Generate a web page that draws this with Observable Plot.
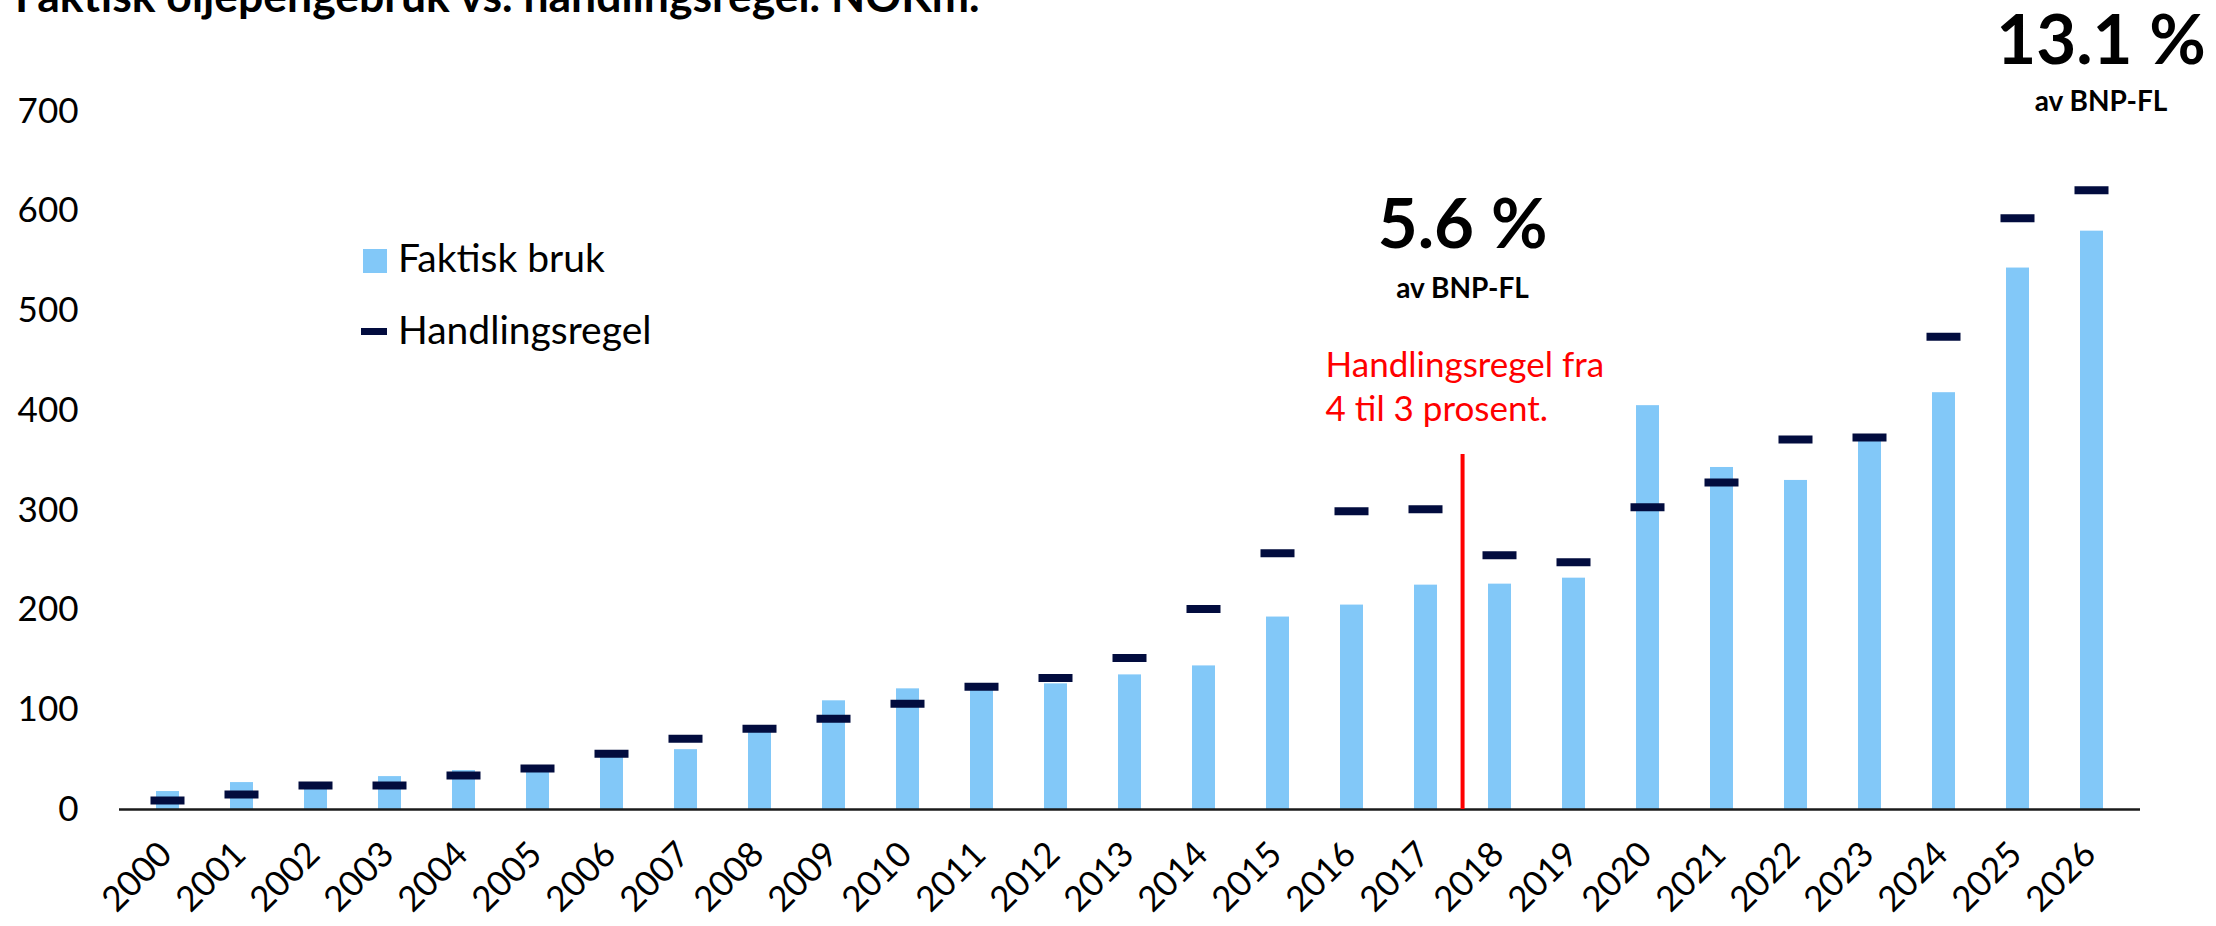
<!DOCTYPE html>
<html>
<head>
<meta charset="utf-8">
<script src="https://cdn.jsdelivr.net/npm/d3@7"></script>
<script src="https://cdn.jsdelivr.net/npm/@observablehq/plot@0.6"></script>
<style>
  html, body { margin: 0; padding: 0; background: #fff; overflow: hidden; }
  #wrap { position: relative; width: 2216px; height: 926px; font-family: Lato, sans-serif; overflow: hidden; }
  #title { position: absolute; left: 15px; top: -27px; font-size: 44.5px; line-height: 44px; font-weight: 700; color: #000; white-space: nowrap; }
  .leg { position: absolute; font-size: 39px; line-height: 39px; color: #000; white-space: nowrap; }
  .sw { position: absolute; }
</style>
</head>
<body>
<div id="wrap">
  <div id="chart"></div>
  <div id="title">Faktisk oljepengebruk vs. handlingsregel. NOKm.</div>
  <div class="sw" style="left:363px;top:249px;width:24px;height:24px;background:#82c8f8"></div>
  <div class="leg" style="left:398px;top:238px">Faktisk bruk</div>
  <div class="sw" style="left:361px;top:328px;width:26px;height:7px;background:#020c3e"></div>
  <div class="leg" style="left:398px;top:310px">Handlingsregel</div>
</div>
<script>
const years = ["2000","2001","2002","2003","2004","2005","2006","2007","2008","2009","2010","2011","2012","2013","2014","2015","2016","2017","2018","2019","2020","2021","2022","2023","2024","2025","2026"];
const faktiskBruk = [18, 27, 24, 33, 39, 39, 57, 60, 79, 109, 121, 121, 126, 135, 144, 193, 205, 225, 226, 232, 405, 343, 330, 369, 418, 543, 580];
const handlingsregel = [9, 15, 24, 24, 34, 41, 56, 71, 81, 91, 106, 123, 132, 152, 201, 257, 299, 301, 255, 248, 303, 328, 371, 373, 474, 593, 621];
const yTicks = [0, 100, 200, 300, 400, 500, 600, 700];
const ruleChangeYear = "2018";
const ruleChangeTop = 356;
const noteBoundary = [
  {year: "2018", y: 585, text: "5.6 %", size: 69},
  {year: "2018", y: 522, text: "av BNP-FL", size: 28}
];
const noteEnd = [
  {year: "2026", y: 770, text: "13.1 %", size: 69},
  {year: "2026", y: 709, text: "av BNP-FL", size: 28}
];
const redNote = "Handlingsregel fra\n4 til 3 prosent.";

const data = years.map((year, i) => ({year, faktisk: faktiskBruk[i], regel: handlingsregel[i]}));

const W = 2216, H = 926, mL = 119, mR = 76, mT = 111, mB = 117;
const step = (W - mL - mR) / years.length;

const noteMark = (arr, dx) => arr.map(d => Plot.text([d], {
  x: "year", y: "y", text: "text", textAnchor: "middle", lineAnchor: "middle",
  fontWeight: 700, fontSize: d.size, fill: "#000", dx
}));

const chart = Plot.plot({
  width: W, height: H,
  marginLeft: mL, marginRight: mR, marginTop: mT, marginBottom: mB,
  style: {fontFamily: "Lato, sans-serif", fontSize: "35px", color: "#000", background: "#fff"},
  x: {type: "band", domain: years, paddingInner: 0.69, paddingOuter: 0.345, label: null},
  y: {domain: [0, 700], label: null},
  marks: [
    Plot.axisY({ticks: yTicks, tickSize: 0, tickPadding: 41, fontSize: 35, label: null}),
    Plot.axisX({tickSize: 0, tickRotate: -45, tickPadding: 39, fontSize: 35, label: null, textAnchor: "end", lineAnchor: "middle", dx: -2}),
    Plot.barY(data, {x: "year", y: "faktisk", fill: "#82c8f8"}),
    Plot.ruleY([0], {stroke: "#1a1a1a", strokeWidth: 2.5}),
    Plot.tickY(data, {x: "year", y: "regel", stroke: "#020c3e", strokeWidth: 8, insetLeft: -5.5, insetRight: -5.5}),
    Plot.ruleX([ruleChangeYear], {y1: 0, y2: ruleChangeTop, stroke: "#ff0000", strokeWidth: 4, dx: -step / 2}),
    Plot.text([redNote], {x: () => ruleChangeYear, y: () => 426, text: d => d, textAnchor: "start", lineAnchor: "middle", dx: -step / 2 - 137, fill: "#ff0000", fontSize: 35, lineHeight: 1.28}),
    ...noteMark(noteBoundary, -step / 2),
    ...noteMark(noteEnd, 9)
  ]
});
document.getElementById("chart").appendChild(chart);
</script>
</body>
</html>
